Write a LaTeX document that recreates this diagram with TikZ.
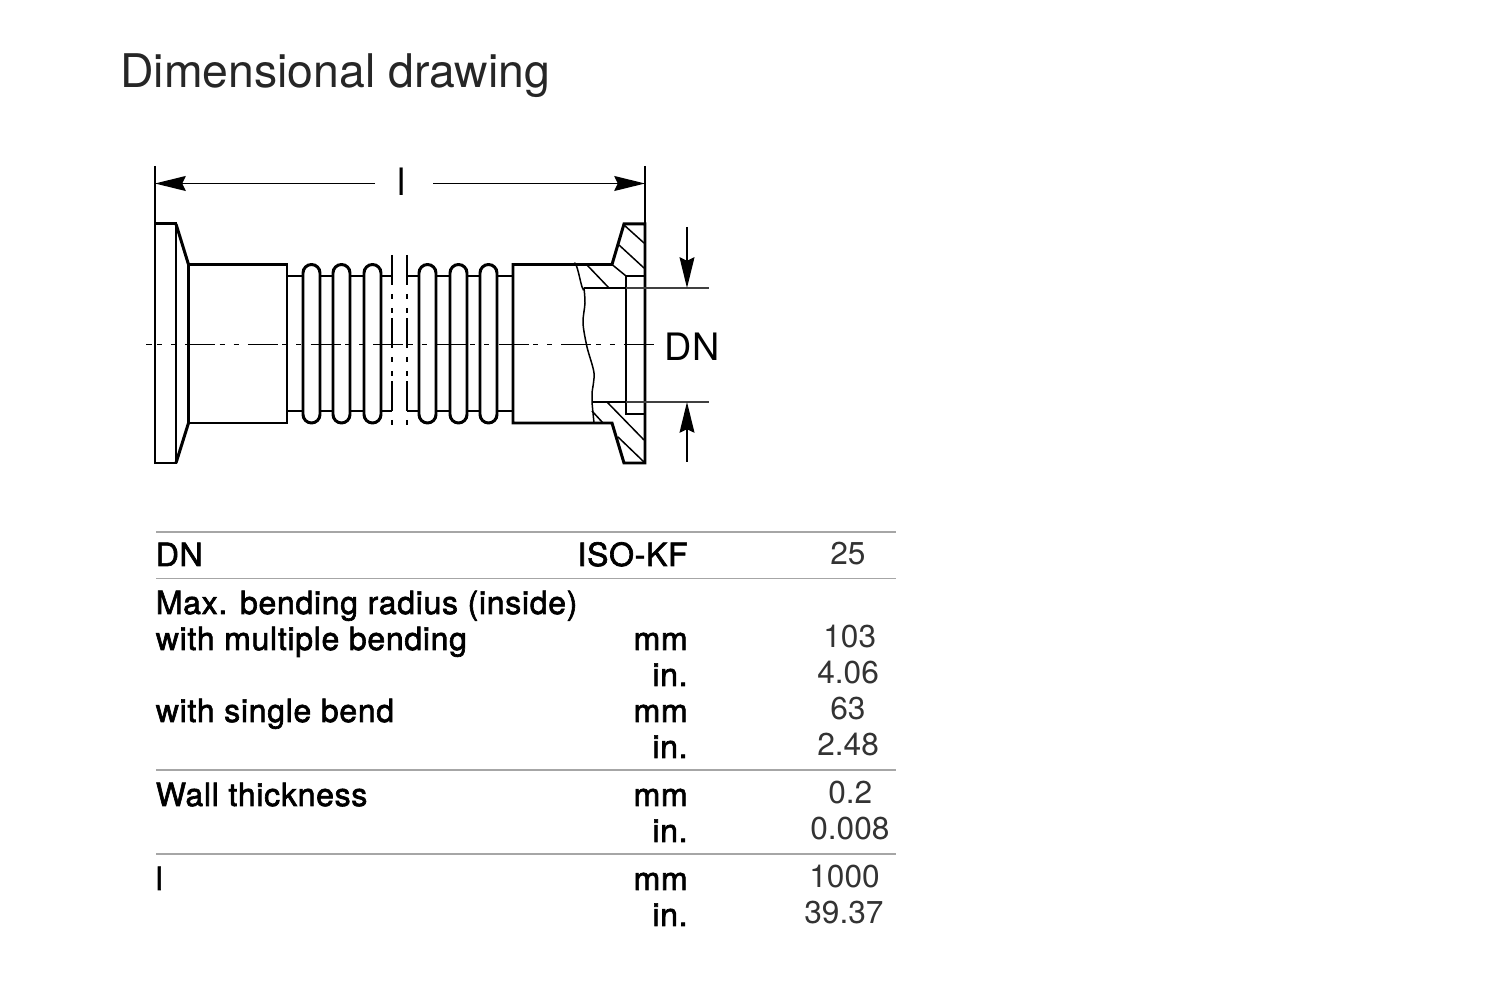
\documentclass[tikz,border=0pt]{standalone}
\usepackage{fontspec}
\setmainfont{TeX Gyre Heros}
\newfontfamily\labelfont[FakeBold=2,LetterSpace=2.2]{TeX Gyre Heros}
\usetikzlibrary{arrows.meta}

\begin{document}
\begin{tikzpicture}[x=0.02cm,y=-0.02cm,
  outline/.style={line width=1.7pt,line join=miter},
  thinline/.style={line width=0.85pt},
  rule/.style={line width=1.1pt,black!35},
  dimarrow/.style={line width=0.85pt,-{Stealth[length=17.5pt,width=8.5pt,inset=2pt]}},
  headtext/.style={inner sep=0pt,anchor=base west,text=black!85,font=\fontsize{26.4}{30}\selectfont},
  dimtext/.style={inner sep=0pt,anchor=base,font=\fontsize{21.5}{24}\selectfont},
  rowtext/.style={inner sep=0pt,anchor=base west,font=\fontsize{18.2}{20}\labelfont},
  unittext/.style={inner sep=0pt,anchor=base east,font=\fontsize{18.2}{20}\labelfont},
  valtext/.style={inner sep=0pt,anchor=base west,text=black!80,font=\fontsize{18}{20}\selectfont},
  axisdash/.style={line width=0.85pt,dash pattern=on 17.07pt off 2.56pt on 2.85pt off 5.12pt on 2.85pt off 5.23pt,dash phase=13.4pt},
  breakdash/.style={line width=0.85pt,dash pattern=on 17.07pt off 5.12pt on 2.85pt off 5.12pt on 2.85pt off 2.85pt}]
 \useasboundingbox (0,0) rectangle (1502,999);
 \node[headtext] (title) at (120,88) {Dimensional drawing};
 % left flange and collar
 \draw[outline] (155,224) -- (176,224) -- (176,463) -- (155,463) -- cycle;
 \draw[outline] (176,224) -- (188.5,264.5) -- (188.5,423) -- (176,463);
 \draw[outline] (188.5,264.5) rectangle (287,423);
 % bellows
 \foreach \xa in {303,333,364,419,450,480} {
  \draw[outline,rounded corners=0.17cm] (\xa,264.5) rectangle (\xa+17,423);
 }
 \foreach \ya in {276,411} {
  \draw[outline] (287,\ya) -- (303,\ya) (320,\ya) -- (333,\ya) (350,\ya) -- (364,\ya) (381,\ya) -- (392,\ya);
  \draw[outline] (407,\ya) -- (419,\ya) (436,\ya) -- (450,\ya) (467,\ya) -- (480,\ya) (497,\ya) -- (513,\ya);
 }
 \foreach \xa in {392,407} {
  \draw[breakdash] (\xa,255) -- (\xa,425);
 }
 % right collar and flange, cut open
 \draw[outline] (573.5,264.5) -- (513,264.5) -- (513,423) -- (612,423) -- (624,463) -- (645,463) -- (645,224) -- (624,224) -- (612,264.5) -- cycle;
 \draw[outline] (584,288) -- (626,288);
 \draw[outline] (592,402) -- (626,402);
 \draw[outline] (645,276) -- (626,276) -- (626,414) -- (645,414);
 \draw[thinline] (573.5,264.5) to[out=70,in=-100] (584,288);
 \draw[thinline] plot[smooth] coordinates {(584,288) (585,303) (583,323) (587,347) (594,373) (592,393) (592,402) (594,423)};
 % hatching
 \draw[thinline] (587,265) -- (609,288);
 \draw[thinline] (612,264.5) -- (626,276);
 \draw[thinline] (624,225) -- (644,243);
 \draw[thinline] (619,245) -- (644,268);
 \draw[thinline] (592,411) -- (603,423);
 \draw[thinline] (607,402) -- (644,440);
 \draw[thinline] (618,437) -- (644,462);
 % centre line
 \coordinate (axisL) at (146,344.5);
 \coordinate (axisR) at (655,344.5);
 \draw[axisdash] (axisL) -- (axisR);
 % length dimension
 \coordinate (extLa) at (155,166);
 \coordinate (extLb) at (155,224);
 \coordinate (extRa) at (645,166);
 \coordinate (extRb) at (645,224);
 \draw[thinline] (extLa) -- (extLb);
 \draw[thinline] (extRa) -- (extRb);
 \node[dimtext] (lenlabel) at (402,196) {l};
 \coordinate (lenL) at (155,183.5);
 \coordinate (lenR) at (645,183.5);
 \coordinate (lenLs) at (375,183.5);
 \coordinate (lenRs) at (433,183.5);
 \draw[dimarrow] (lenLs) -- (lenL);
 \draw[dimarrow] (lenRs) -- (lenR);
 % DN dimension
 \node[dimtext] (dnlabel) at (692,361) {DN};
 \coordinate (dnAa) at (626,288);
 \coordinate (dnAb) at (709,288);
 \coordinate (dnBa) at (626,402);
 \coordinate (dnBb) at (709,402);
 \draw[thinline,black!75] (dnAa) -- (dnAb);
 \draw[thinline,black!75] (dnBa) -- (dnBb);
 \coordinate (dnAs) at (687,227);
 \coordinate (dnAe) at (687,288);
 \coordinate (dnBs) at (687,462);
 \coordinate (dnBe) at (687,402);
 \draw[dimarrow] (dnAs) -- (dnAe);
 \draw[dimarrow] (dnBs) -- (dnBe);
 % table rules
 \foreach \ya in {532,578.5,770,854} {
  \draw[rule] (156,\ya) -- (896,\ya);
 }
 % table text
 \node[rowtext] (rowdn) at (155.5,566) {DN};
 \node[unittext] (unitiso) at (688,566) {ISO-KF};
 \node[valtext] (valdn) at (830,565) {25};
 \node[rowtext] (rowmax) at (155.5,614) {Max. bending radius (inside)};
 \node[rowtext] (rowmulti) at (155.5,650) {with multiple bending};
 \node[unittext] (unitma) at (688,650) {mm};
 \node[valtext] (valma) at (823,648) {103};
 \node[unittext] (unitmb) at (688,686) {in.};
 \node[valtext] (valmb) at (817,684) {4.06};
 \node[rowtext] (rowsingle) at (155.5,722) {with single bend};
 \node[unittext] (unitsa) at (688,722) {mm};
 \node[valtext] (valsa) at (830,720) {63};
 \node[unittext] (unitsb) at (688,758) {in.};
 \node[valtext] (valsb) at (817,756) {2.48};
 \node[rowtext] (rowwall) at (155.5,806) {Wall thickness};
 \node[unittext] (unitwa) at (688,806) {mm};
 \node[valtext] (valwa) at (828,804) {0.2};
 \node[unittext] (unitwb) at (688,842) {in.};
 \node[valtext] (valwb) at (810,840) {0.008};
 \node[rowtext] (rowlen) at (155.5,890) {l};
 \node[unittext] (unitla) at (688,890) {mm};
 \node[valtext] (valla) at (809,888) {1000};
 \node[unittext] (unitlb) at (688,926) {in.};
 \node[valtext] (vallb) at (804,924) {39.37};
\end{tikzpicture}
\end{document}
